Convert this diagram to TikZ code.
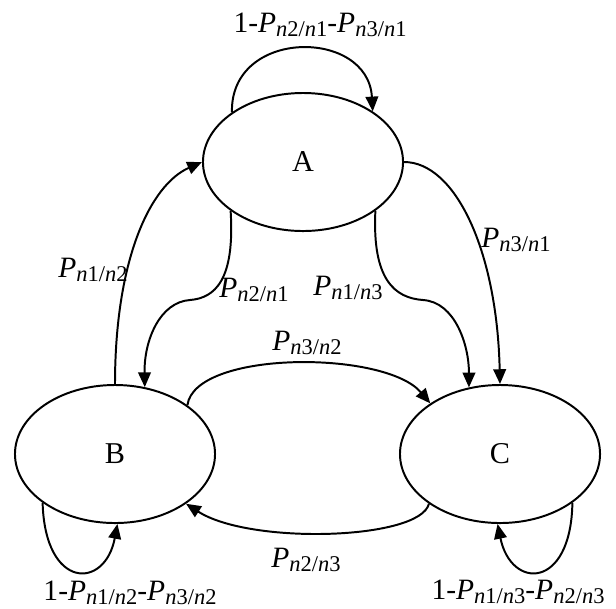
\documentclass[tikz,border=0pt]{standalone}
\usepackage{fontspec}
\setmainfont{Liberation Serif}
\usetikzlibrary{arrows, arrows.meta, calc, positioning, shapes}
\tikzstyle{state}		=[ellipse, draw=black, line width=1.4pt, minimum width=5cm, minimum height=3.45cm, inner sep=0pt, font=\fontsize{21.5}{25}\selectfont]
\tikzstyle{prob}		=[inner sep=0pt, font=\fontsize{21}{25}\selectfont]
\tikzstyle{trans}		=[line width=1.4pt, -{Triangle[length=10.5pt, width=9pt]}]
\newcommand{\pn}[2]{\textit{P}\raisebox{-3pt}{\fontsize{16}{19}\selectfont\textit{n}#1/\textit{n}#2}}

\begin{document}
\begin{tikzpicture}[x=0.025cm, y=-0.025cm]
	\useasboundingbox (0, 0) rectangle (616, 608);

	\node (A)			[state]		at (303, 162)		{A};
	\node (B)			[state]		at (115, 454)		{B};
	\node (C)			[state]		at (500, 454)		{C};

	\node (StayA)		[prob]		at (320, 25)		{1-\pn{2}{1}-\pn{3}{1}};
	\node (StayB)		[prob]		at (130, 593)		{1-\pn{1}{2}-\pn{3}{2}};
	\node (StayC)		[prob]		at (518, 592)		{1-\pn{1}{3}-\pn{2}{3}};
	\node (BtoA)		[prob]		at (93, 270)		{\pn{1}{2}};
	\node (AtoB)		[prob]		at (254, 290)		{\pn{2}{1}};
	\node (AtoCin)		[prob]		at (348, 288)		{\pn{1}{3}};
	\node (AtoCout)		[prob]		at (516, 240)		{\pn{3}{1}};
	\node (BtoC)		[prob]		at (307, 343)		{\pn{3}{2}};
	\node (CtoB)		[prob]		at (306, 560)		{\pn{2}{3}};

	% self loops
	\draw [trans] (A.145) .. controls (230, 28) and (368, 28) .. (A.36);
	\draw [trans] (B.214) .. controls (45, 590) and (105, 590) .. (B.272);
	\draw [trans] (C.326) .. controls (571, 590) and (511, 590) .. (C.268);

	% between states
	\draw [trans] (B.90) .. controls (115, 260) and (150, 185) .. (A.180);
	\draw [trans] (A.214) .. controls (235, 280) and (215, 298) .. (190, 300)
							.. controls (160, 302) and (144, 340) .. (B.66);
	\draw [trans] (A.326) .. controls (372, 280) and (395, 298) .. (423, 300)
							.. controls (455, 302) and (469, 345) .. (C.115);
	\draw [trans] (A.0) .. controls (455, 162) and (497, 250) .. (C.90);
	\draw [trans] (B.34) .. controls (195, 350) and (385, 350) .. (C.144);
	\draw [trans] (C.215) .. controls (420, 540) and (250, 545) .. (B.-35);

\end{tikzpicture}
\end{document}
